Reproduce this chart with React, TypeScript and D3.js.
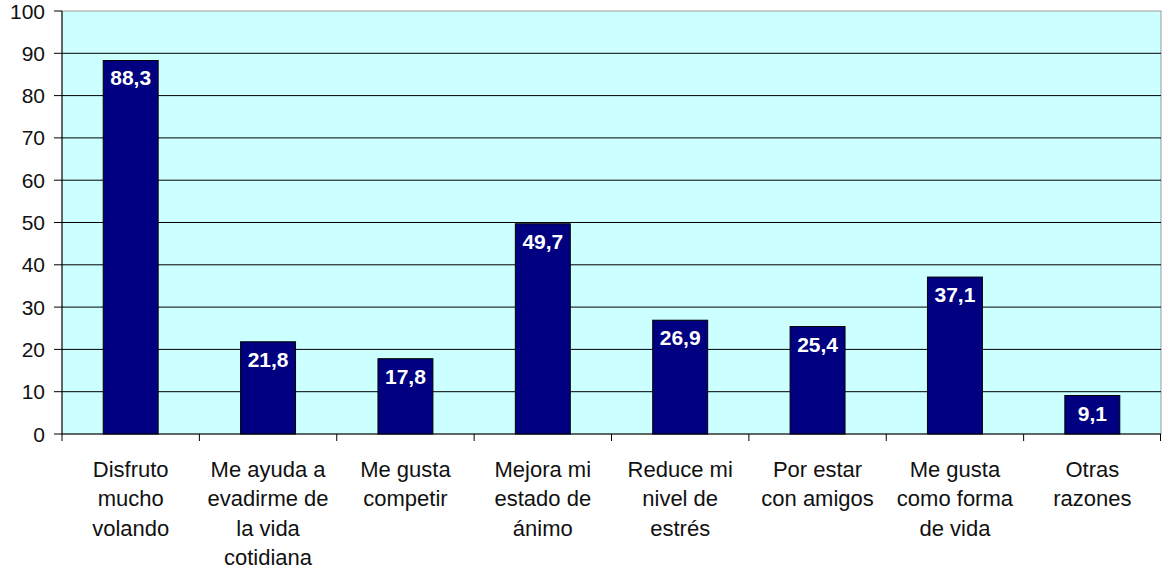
import React from 'react';
import { scaleBand, scaleLinear } from 'd3';

const categories = [
  ['Disfruto', 'mucho', 'volando'],
  ['Me ayuda a', 'evadirme de', 'la vida', 'cotidiana'],
  ['Me gusta', 'competir'],
  ['Mejora mi', 'estado de', 'ánimo'],
  ['Reduce mi', 'nivel de', 'estrés'],
  ['Por estar', 'con amigos'],
  ['Me gusta', 'como forma', 'de vida'],
  ['Otras', 'razones'],
];
const values = [88.3, 21.8, 17.8, 49.7, 26.9, 25.4, 37.1, 9.1];
const yTicks = [0, 10, 20, 30, 40, 50, 60, 70, 80, 90, 100];

const width = 1162;
const height = 569;
const margin = { top: 11, right: 1, bottom: 135, left: 62 };

const App = () => {
  const keys = categories.map((_, i) => String(i));
  const x = scaleBand<string>()
    .domain(keys)
    .range([margin.left, width - margin.right])
    .paddingInner(0.6)
    .paddingOuter(0.3);
  const step = x.step();
  const y = scaleLinear().domain([0, 100]).range([height - margin.bottom, margin.top]);
  const font = 'Arial, "Liberation Sans", sans-serif';

  return (
    <svg width={width} height={height} style={{ position: 'absolute', left: 0, top: 0, fontFamily: font }}>
      <rect
        x={margin.left}
        y={margin.top}
        width={width - margin.left - margin.right}
        height={y(0) - margin.top}
        fill="#ccffff"
        stroke="#999"
      />
      {yTicks.map((t) => (
        <g key={t}>
          {t > 0 && t < 100 && (
            <line x1={margin.left} x2={width - margin.right} y1={y(t)} y2={y(t)} stroke="#000" />
          )}
          <line x1={margin.left - 8} x2={margin.left} y1={y(t)} y2={y(t)} stroke="#000" />
          <text x={margin.left - 17} y={y(t)} dy="0.36em" textAnchor="end" fontSize={21} fill="#111">
            {t}
          </text>
        </g>
      ))}
      <line x1={margin.left} x2={margin.left} y1={margin.top} y2={y(0)} stroke="#000" />
      <line x1={margin.left} x2={width - margin.right} y1={y(0)} y2={y(0)} stroke="#000" />
      {keys.map((k, i) => (
        <line
          key={'t' + k}
          x1={margin.left + step * i}
          x2={margin.left + step * i}
          y1={y(0)}
          y2={y(0) + 7}
          stroke="#000"
        />
      ))}
      <line x1={width - margin.right - 0.5} x2={width - margin.right - 0.5} y1={y(0)} y2={y(0) + 7} stroke="#000" />
      {values.map((v, i) => (
        <g key={'b' + i}>
          <rect
            x={x(keys[i])!}
            y={y(v)}
            width={x.bandwidth()}
            height={y(0) - y(v)}
            fill="#000080"
            stroke="#000"
          />
          <text
            x={x(keys[i])! + x.bandwidth() / 2}
            y={y(v) + 25}
            textAnchor="middle"
            fontSize={21}
            fontWeight="bold"
            fill="#fff"
          >
            {String(v).replace('.', ',')}
          </text>
        </g>
      ))}
      {categories.map((lines, i) => (
        <text
          key={'c' + i}
          x={x(keys[i])! + x.bandwidth() / 2}
          y={y(0) + 43}
          textAnchor="middle"
          fontSize={22}
          fill="#111"
        >
          {lines.map((l, j) => (
            <tspan key={j} x={x(keys[i])! + x.bandwidth() / 2} dy={j === 0 ? 0 : 29.3}>
              {l}
            </tspan>
          ))}
        </text>
      ))}
    </svg>
  );
};

export default App;
